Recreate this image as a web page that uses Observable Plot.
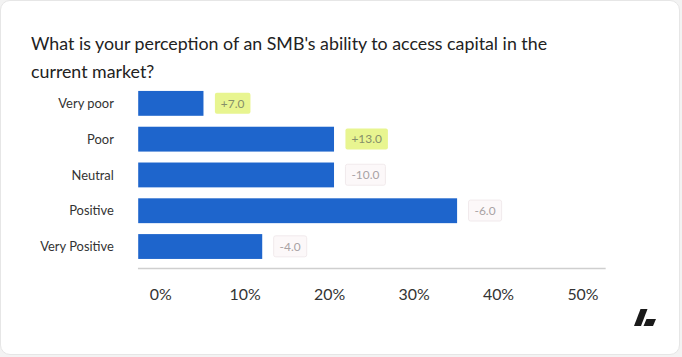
<!DOCTYPE html>
<html>
<head>
<meta charset="utf-8">
<script src="https://cdn.jsdelivr.net/npm/d3@7"></script>
<script src="https://cdn.jsdelivr.net/npm/@observablehq/plot@0.6"></script>
<style>
  html, body { margin: 0; padding: 0; background: #f3f3f3; }
  #card {
    position: absolute; left: 0; top: 0; width: 678px; height: 353px;
    background: #fff; border: 1px solid #e6e6e6; border-radius: 10px;
    font-family: Lato, "Open Sans", sans-serif; overflow: hidden;
  }
  #title {
    position: absolute; left: 30px; top: 28px; width: 570px;
    font-size: 17.8px; line-height: 28px; color: #222;
  }
  #main { position: absolute; left: 0; top: 80px; }
  #axis { position: absolute; left: 0; top: 282px; }
  #logo { position: absolute; left: 0; top: 0; }
</style>
</head>
<body>
<div id="card">
  <div id="title">What is your perception of an SMB's ability to access capital in the current market?</div>
  <div id="main"></div>
  <div id="axis"></div>
  <svg id="logo" width="682" height="357">
    <polygon points="633,325 639.5,308 646.5,308 640,325" fill="#1a1a1a"/>
    <polygon points="642.5,325 645.5,318 655,318 652,325" fill="#1a1a1a"/>
  </svg>
</div>
<script>
const categories = ["Very poor", "Poor", "Neutral", "Positive", "Very Positive"];
const shares = [7, 21, 21, 34.2, 13.3];
const changes = [7, 13, -10, -6, -4];
const xTicks = [0, 10, 20, 30, 40, 50];

const data = categories.map((c, i) => ({category: c, share: shares[i], change: changes[i]}));
const fmt = v => (v > 0 ? "+" : "") + v.toFixed(1);

const main = Plot.plot({
  width: 682,
  height: 190,
  marginTop: 1.2,
  marginBottom: 2,
  marginLeft: 138,
  marginRight: 75,
  style: {fontFamily: "Lato, sans-serif", fontSize: "13px", color: "#333", background: "transparent"},
  x: {domain: [0, 50], axis: null},
  y: {domain: categories, paddingInner: 0.3, paddingOuter: 0.244, label: null, tickSize: 0, tickPadding: 25},
  marks: [
    Plot.barX(data, {x: "share", y: "category", fill: "#1e65cc"}),
    Plot.text(data, {
      x: "share", y: "category", text: d => fmt(d.change),
      textAnchor: "start", dx: 17, fontSize: 12,
      fill: d => d.change > 0 ? "#858f6a" : "#a8a2a4"
    }),
    Plot.frame({anchor: "bottom", stroke: "#cfcfcf", strokeWidth: 1.5})
  ]
});
document.getElementById("main").appendChild(main);

// badge backgrounds behind change labels
d3.select(main).selectAll('g[aria-label="text"] text').each(function(_, i) {
  const b = this.getBBox();
  const pos = changes[i] > 0;
  const r = d3.select(this.parentNode).insert("rect", () => this)
    .attr("x", b.x - 6).attr("y", b.y - 3)
    .attr("width", b.width + 12).attr("height", b.height + 6)
    .attr("rx", 2)
    .attr("fill", pos ? "#e8f590" : "#fcf8f9")
    .attr("stroke", pos ? "none" : "#f1eaec");
  const t = this.getAttribute("transform");
  if (t) r.attr("transform", t);
});

const axis = Plot.plot({
  width: 682,
  height: 30,
  marginTop: 0,
  marginBottom: 28,
  marginLeft: 160,
  marginRight: 97,
  style: {fontFamily: "Lato, sans-serif", fontSize: "16px", color: "#333", background: "transparent"},
  x: {domain: [0, 50]},
  marks: [
    Plot.axisX(xTicks, {anchor: "bottom", tickSize: 0, tickPadding: 3, tickFormat: d => `${d}%`, label: null, fontSize: 16})
  ]
});
document.getElementById("axis").appendChild(axis);
</script>
</body>
</html>
